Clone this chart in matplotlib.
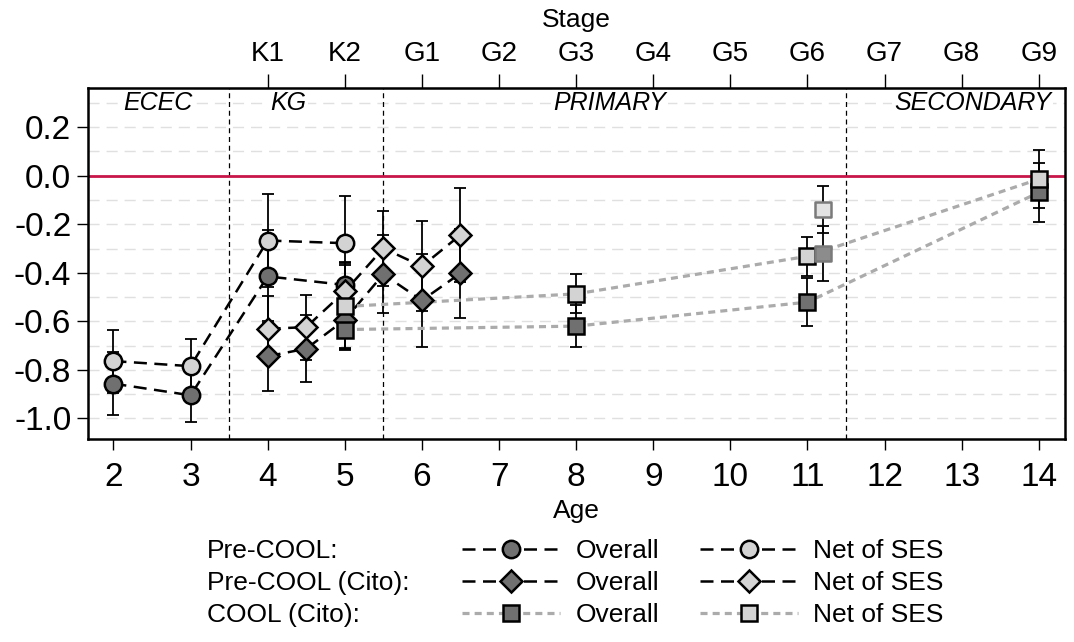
import numpy as np
import matplotlib.pyplot as plt
from matplotlib.ticker import MultipleLocator
from matplotlib.legend_handler import HandlerTuple

plt.rcParams['font.family'] = ['Liberation Sans', 'DejaVu Sans']
plt.rcParams['axes.unicode_minus'] = False

# Pre-COOL
precool_age = [2, 3, 4, 5]
precool_overall = [-0.857, -0.905, -0.415, -0.450]
precool_overall_err = [0.13, 0.11, 0.19, 0.09]
precool_net = [-0.764, -0.785, -0.267, -0.278]
precool_net_err = [0.13, 0.11, 0.19, 0.193]

# Pre-COOL (Cito)
cito_age = [4, 4.5, 5, 5.5, 6, 6.5]
cito_overall = [-0.744, -0.713, -0.594, -0.406, -0.514, -0.402]
cito_overall_err = [0.144, 0.137, 0.12, 0.16, 0.19, 0.183]
cito_net = [-0.631, -0.624, -0.477, -0.299, -0.373, -0.244]
cito_net_err = [0.135, 0.134, 0.12, 0.155, 0.185, 0.192]

# COOL (Cito)
cool_age = [5, 8, 11, 14]
cool_overall = [-0.634, -0.620, -0.521, -0.069]
cool_overall_err = [0.085, 0.087, 0.10, 0.12]
cool_net = [-0.539, -0.487, -0.332, -0.014]
cool_net_err = [0.17, 0.08, 0.08, 0.12]

# extra COOL estimates, not connected
extra_age = [11.2, 11.2]
extra_vals = [-0.322, -0.140]
extra_err = [0.113, 0.096]

age_ticks = list(range(2, 15))
y_ticks = [-1.0, -0.8, -0.6, -0.4, -0.2, 0.0, 0.2]
stage_ages = list(range(4, 15))
stage_labels = ['K1', 'K2', 'G1', 'G2', 'G3', 'G4', 'G5', 'G6', 'G7', 'G8', 'G9']
region_labels = ['ECEC', 'KG', 'PRIMARY', 'SECONDARY']
region_x = [2.57, 4.27, 8.44, 13.14]
region_bounds = [3.5, 5.5, 11.5]
row_labels = ['Pre-COOL:', 'Pre-COOL (Cito):', 'COOL (Cito):']

DARK = '#707070'
LIGHT = '#d3d3d3'
BLACK_DASH = (0, (5.2, 3.0))
GRAY_DASH = (0, (2.2, 1.6))

fig = plt.figure(figsize=(10.74, 6.42), dpi=100)
ax = fig.add_axes([88 / 1074, 1 - 438.7 / 642, 977 / 1074, 351 / 642])


def draw(ages, vals, errs, marker, ms, fill, ls, lcolor, lw, z):
    ax.errorbar(ages, vals, yerr=errs, fmt='none', ecolor='black',
                elinewidth=1.3, capsize=4.5, capthick=1.3, zorder=2)
    line, = ax.plot(ages, vals, ls=ls, color=lcolor, lw=lw, zorder=3)
    mk, = ax.plot(ages, vals, ls='none', marker=marker, ms=ms, mfc=fill,
                  mec='black', mew=1.8, zorder=z)
    return (line, mk)


h_pc_o = draw(precool_age, precool_overall, precool_overall_err, 'o', 12.5, DARK, BLACK_DASH, 'black', 1.8, 4)
h_pc_n = draw(precool_age, precool_net, precool_net_err, 'o', 12.5, LIGHT, BLACK_DASH, 'black', 1.8, 4.1)
h_ci_o = draw(cito_age, cito_overall, cito_overall_err, 'D', 11, DARK, BLACK_DASH, 'black', 1.8, 5)
h_ci_n = draw(cito_age, cito_net, cito_net_err, 'D', 11, LIGHT, BLACK_DASH, 'black', 1.8, 5.1)
h_co_o = draw(cool_age, cool_overall, cool_overall_err, 's', 11, DARK, GRAY_DASH, '#ababab', 2.3, 6)
h_co_n = draw(cool_age, cool_net, cool_net_err, 's', 11, LIGHT, GRAY_DASH, '#ababab', 2.3, 6.1)

ax.errorbar(extra_age, extra_vals, yerr=extra_err, fmt='none', ecolor='black',
            elinewidth=1.3, capsize=4.5, capthick=1.3, zorder=2)
ax.scatter(extra_age, extra_vals, marker='s', s=11 ** 2, c=['#8c8c8c', '#e2e2e2'],
           edgecolors='#7a7a7a', linewidths=1.8, zorder=6.2)

ax.axhline(0, color='#c8164a', lw=2, zorder=2.5)
for b in region_bounds:
    ax.axvline(b, color='black', ls=(0, (4, 3)), lw=0.9, zorder=1.5)
for lab, x in zip(region_labels, region_x):
    ax.text(x, 0.30, lab, style='italic', ha='center', va='center', fontsize=18,
            zorder=2, bbox=dict(facecolor='white', edgecolor='none', pad=1))

ax.set_xlim(1.67, 14.34)
ax.set_ylim(-1.084, 0.363)
ax.set_xticks(age_ticks)
ax.set_yticks(y_ticks, [f'{v:.1f}' for v in y_ticks])
ax.yaxis.set_minor_locator(MultipleLocator(0.1))
ax.grid(axis='y', which='both', color='#e0e0e0', ls=(0, (8, 5)), lw=1)
ax.set_axisbelow(True)
ax.tick_params(axis='both', which='major', labelsize=24, length=8, width=1)
ax.tick_params(axis='x', pad=9)
ax.tick_params(axis='y', pad=4)
ax.tick_params(which='minor', length=0)
for s in ax.spines.values():
    s.set_linewidth(1.8)
ax.set_xlabel('Age', fontsize=19, labelpad=4)

secax = ax.secondary_xaxis('top')
secax.set_xticks(stage_ages, stage_labels)
secax.tick_params(length=10, width=1, labelsize=20, pad=5)
secax.set_xlabel('Stage', fontsize=19, labelpad=10)

handles = [h_pc_o, h_ci_o, h_co_o, h_pc_n, h_ci_n, h_co_n]
labels = ['Overall'] * 3 + ['Net of SES'] * 3
fig.legend(handles, labels, ncol=2, loc='center left', bbox_to_anchor=(462 / 1074, 1 - 583 / 642),
           frameon=False, fontsize=19, handlelength=3.7, handletextpad=0.6, columnspacing=1.55,
           labelspacing=0.3, borderpad=0, borderaxespad=0,
           handler_map={tuple: HandlerTuple(ndivide=1)})
for lab, yp in zip(row_labels, [551, 583, 615]):
    fig.text(207 / 1074, 1 - yp / 642, lab, fontsize=19, va='center', ha='left')

fig.savefig('out.png', dpi=100)
